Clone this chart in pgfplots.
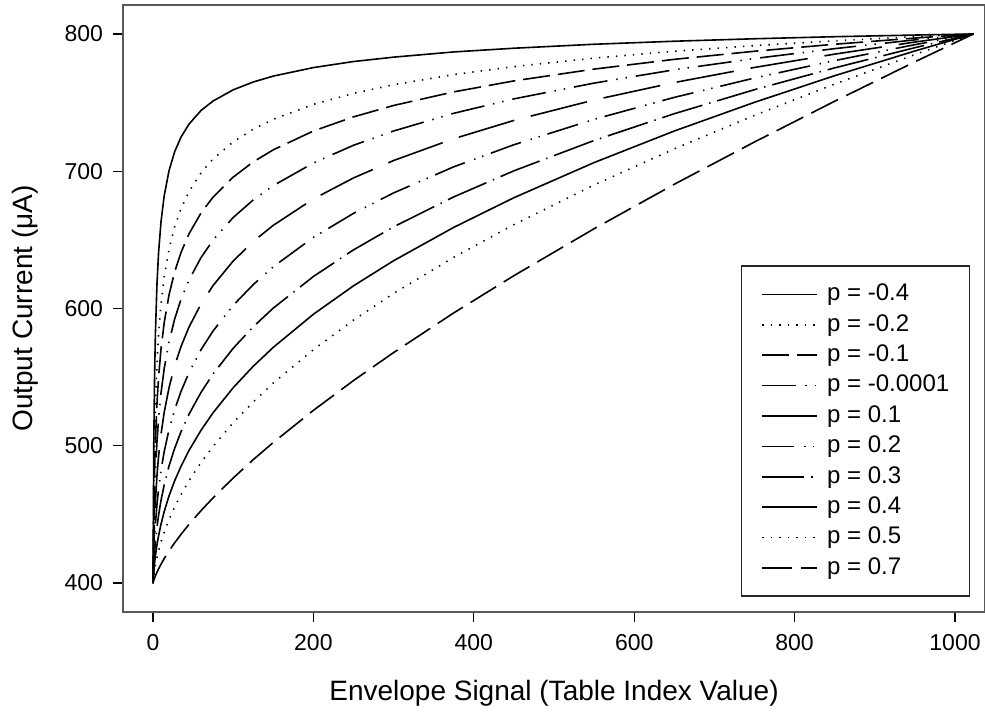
\documentclass[border=0pt]{standalone}
\usepackage{fontspec}
\setmainfont{Liberation Sans}
\usepackage{pgfplots}
\pgfplotsset{compat=1.18}
\usepackage{pgfplotstable}

\pgfplotstableread{
x    m04   m02   m01   m00   p01   p02   p03   p04   p05   p07
0    400   400   400   400   400   400   400   400   400   400
1    503.3 469.0 453.6 440.0 428.7 419.8 413.2 408.5 405.3 402.0
2    551.7 505.2 483.2 463.4 446.4 432.8 422.3 414.7 409.4 403.6
3    581.6 529.1 503.6 480.0 459.5 442.6 429.5 419.8 412.9 405.2
5    618.3 560.6 531.2 503.4 478.5 457.5 440.7 427.9 418.7 407.9
7    641.0 581.5 550.2 520.0 492.5 468.8 449.5 434.6 423.6 410.4
10   663.2 603.2 570.6 538.4 508.4 482.1 460.2 442.9 429.9 413.7
14   682.2 623.0 589.8 556.3 524.4 495.8 471.6 452.1 437.1 417.8
20   700.4 643.2 610.0 575.7 542.3 511.8 485.3 463.5 446.2 423.4
27   714.2 659.5 626.7 592.3 558.2 526.3 498.1 474.5 455.4 429.3
35   724.9 672.9 640.9 606.8 572.4 539.7 510.3 485.1 464.5 435.5
45   734.4 685.3 654.5 620.9 586.6 553.4 523.1 496.7 474.6 442.8
60   744.3 698.9 669.7 637.2 603.4 570.1 539.0 511.4 487.9 452.8
75   751.2 709.0 681.2 649.9 616.8 583.7 552.4 524.1 499.6 462.1
100  759.3 721.4 695.7 666.3 634.6 602.3 571.0 542.3 516.8 476.5
125  765.0 730.6 706.8 679.1 648.8 617.4 586.7 557.9 531.9 489.9
150  769.3 737.8 715.6 689.5 660.6 630.4 600.3 571.7 545.7 502.4
200  775.5 748.7 729.3 706.0 679.8 651.8 623.3 595.8 570.0 525.8
250  779.9 756.7 739.6 718.9 695.1 669.3 642.7 616.5 591.5 547.5
300  783.1 763.0 747.9 729.3 707.8 684.2 659.5 634.8 611.0 567.9
375  786.9 770.4 757.8 742.2 723.7 703.2 681.3 659.1 637.3 596.8
450  789.6 776.2 765.8 752.7 737.0 719.3 700.3 680.7 661.1 623.9
550  792.5 782.4 774.4 764.2 751.9 737.8 722.4 706.3 690.0 658.1
650  794.7 787.4 781.5 773.9 764.6 753.8 741.9 729.3 716.3 690.5
750  796.5 791.5 787.4 782.1 775.6 767.9 759.4 750.2 740.7 721.3
850  798.0 795.0 792.5 789.3 785.3 780.6 775.3 769.6 763.5 751.0
950  799.2 798.0 797.0 795.7 794.1 792.2 790.0 787.6 785.0 779.7
1023 800   800   800   800   800   800   800   800   800   800
}\curves

\begin{document}
\begin{tikzpicture}
\begin{axis}[
  name=ax,
  scale only axis,
  width=431pt, height=303.5pt,
  xmin=-37.4, xmax=1037.4, ymin=378.9, ymax=821.1,
  xtick={0,200,400,600,800,1000},
  ytick={400,500,600,700,800},
  tick align=outside, tick pos=left,
  major tick length=5pt,
  axis line style={draw=black!65, line width=1pt},
  tick style={black, line width=0.6pt},
  /pgf/number format/assume math mode=true,
  /pgf/number format/1000 sep={},
  ticklabel style={font=\fontsize{11.5}{13}\selectfont},
  yticklabel style={xshift=-1.5pt},
  xticklabel style={yshift=-2.5pt},
  xlabel={Envelope Signal (Table Index Value)},
  ylabel={Output Current (μA)},
  every axis x label/.style={at={(axis description cs:0.5,-0.1334)},anchor=center,font=\fontsize{14}{16}\selectfont},
  every axis y label/.style={at={(axis description cs:-0.1137,0.5)},rotate=90,anchor=center,font=\fontsize{14}{16}\selectfont},
  legend cell align=left,
  legend style={at={(1,0)}, anchor=south east, xshift=-7.5pt, yshift=7.5pt,
    draw=black!85, line width=0.75pt,
    font=\fontsize{12}{13}\selectfont,
    inner xsep=10pt, inner ysep=8.5pt, row sep=4pt, column sep=4.5pt,
    nodes={inner sep=0pt, text height=8.7pt, text depth=2.5pt}},
  legend image code/.code={\draw[#1] (0pt,0pt) -- (27.5pt,0pt);},
  every axis plot/.append style={black, line width=0.8pt},
]
\addplot[solid] table[x=x,y=m04]{\curves};
\addlegendentry{p = -0.4}
\addplot[dash pattern=on 0.7pt off 3.55pt] table[x=x,y=m02]{\curves};
\addlegendentry{p = -0.2}
\addplot[dash pattern=on 13.5pt off 4pt] table[x=x,y=m01]{\curves};
\addlegendentry{p = -0.1}
\addplot[dash pattern=on 17pt off 4.5pt on 0.7pt off 4pt on 0.7pt off 4.5pt] table[x=x,y=m00]{\curves};
\addlegendentry{p = -0.0001}
\addplot[dash pattern=on 29pt off 8.5pt] table[x=x,y=p01]{\curves};
\addlegendentry{p = 0.1}
\addplot[dash pattern=on 16pt off 5pt on 0.7pt off 3.5pt on 0.7pt off 4pt] table[x=x,y=p02]{\curves};
\addlegendentry{p = 0.2}
\addplot[dash pattern=on 21pt off 3.5pt on 0.7pt off 3.5pt] table[x=x,y=p03]{\curves};
\addlegendentry{p = 0.3}
\addplot[solid] table[x=x,y=p04]{\curves};
\addlegendentry{p = 0.4}
\addplot[dash pattern=on 0.7pt off 3.55pt] table[x=x,y=p05]{\curves};
\addlegendentry{p = 0.5}
\addplot[dash pattern=on 15pt off 4.5pt] table[x=x,y=p07]{\curves};
\addlegendentry{p = 0.7}
\end{axis}
\pgfresetboundingbox
\path ([xshift=-61.5pt,yshift=-51.5pt]ax.south west) rectangle ([yshift=2.5pt]ax.north east);
\end{tikzpicture}
\end{document}
